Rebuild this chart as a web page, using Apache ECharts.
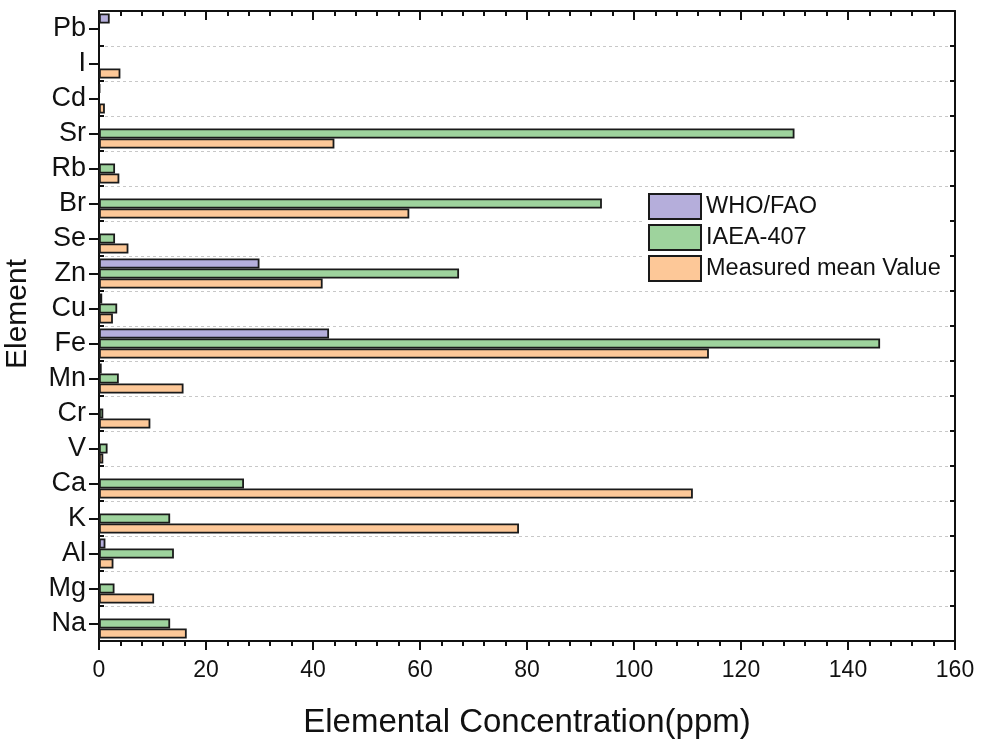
<!DOCTYPE html>
<html>
<head>
<meta charset="utf-8">
<script src="https://cdn.jsdelivr.net/npm/echarts@6/dist/echarts.min.js"></script>
<style>html,body{margin:0;padding:0;background:#fff}#c{width:984px;height:742px}</style>
</head>
<body>
<div id="c"></div>
<script>
const elements = ['Pb','I','Cd','Sr','Rb','Br','Se','Zn','Cu','Fe','Mn','Cr','V','Ca','K','Al','Mg','Na'];
const whoFao   = [2.0, null, 0.2, null, null, null, null, 30.0, 0.6, 43.0, 0.5, null, null, null, null, 1.2, null, null];
const iaea407  = [null, null, null, 130.0, 3.0, 94.0, 3.0, 67.3, 3.4, 146.0, 3.7, 0.8, 1.6, 27.1, 13.3, 14.0, 2.9, 13.3];
const measured = [null, 4.0, 1.1, 44.0, 3.8, 58.0, 5.5, 41.8, 2.6, 114.0, 15.8, 9.6, 0.8, 111.0, 78.5, 2.7, 10.3, 16.4];
const xTicks = [0, 20, 40, 60, 80, 100, 120, 140, 160];

const FONT = 'Liberation Sans';
const chart = echarts.init(document.getElementById('c'), null, {renderer: 'canvas'});
const border = {borderColor: '#1a1a1a', borderWidth: 1.8};
function mk(name, data, color) {
  return {
    name, type: 'bar', data, xAxisIndex: 0, yAxisIndex: 0,
    barWidth: 10, barGap: '0%',
    itemStyle: Object.assign({color}, border)
  };
}
chart.setOption({
  animation: false,
  backgroundColor: '#fff',
  grid: {left: 99, right: 29, top: 11, bottom: 101, outerBoundsMode: 'none', containLabel: false},
  legend: {
    orient: 'vertical', left: 643, top: 188, padding: [5, 8, 5, 5], itemGap: 4,
    backgroundColor: '#fff',
    itemWidth: 52, itemHeight: 25, icon: 'rect',
    textStyle: {fontFamily: FONT, fontSize: 23.5, lineHeight: 25, color: '#111'},
    data: ['WHO/FAO', 'IAEA-407', 'Measured mean Value']
  },
  xAxis: [{
    type: 'value', min: xTicks[0], max: xTicks[xTicks.length - 1], interval: 20,
    position: 'bottom',
    name: 'Elemental Concentration(ppm)', nameLocation: 'middle', nameGap: 65,
    nameTextStyle: {fontFamily: FONT, fontSize: 33, color: '#111'},
    axisLine: {show: true, onZero: false, lineStyle: {color: '#111', width: 2}},
    axisTick: {show: true, inside: false, length: 9, lineStyle: {color: '#111', width: 2}},
    minorTick: {show: true, splitNumber: 5, length: 5, lineStyle: {color: '#111', width: 2}},
    axisLabel: {fontFamily: FONT, fontSize: 23, color: '#111', margin: 18},
    splitLine: {show: false}
  }, {
    type: 'value', min: 0, max: 160, interval: 20, position: 'top',
    axisLine: {show: true, onZero: false, lineStyle: {color: '#111', width: 2}},
    axisTick: {show: true, inside: true, length: 9, lineStyle: {color: '#111', width: 2}},
    minorTick: {show: true, splitNumber: 5, length: 5, lineStyle: {color: '#111', width: 2}},
    axisLabel: {show: false}, splitLine: {show: false}
  }],
  yAxis: [{
    type: 'category', data: elements, inverse: true, position: 'left',
    name: 'Element', nameLocation: 'middle', nameGap: 66,
    nameTextStyle: {fontFamily: FONT, fontSize: 30, color: '#111', padding: [0, 0, 0, 24]},
    axisLine: {show: true, onZero: false, lineStyle: {color: '#111', width: 2}},
    axisTick: {show: true, inside: true, interval: 0, length: 5, lineStyle: {color: '#111', width: 2}},
    axisLabel: {fontFamily: FONT, fontSize: 27, color: '#111', margin: 13, interval: 0},
    splitLine: {show: true, interval: 0, lineStyle: {color: '#c8c8c8', type: [3, 3], width: 1}}
  }, {
    type: 'category', data: elements, inverse: true, position: 'right',
    axisLine: {show: true, onZero: false, lineStyle: {color: '#111', width: 2}},
    axisTick: {show: true, inside: true, interval: 0, length: 5, lineStyle: {color: '#111', width: 2}},
    axisLabel: {show: false, interval: 0}, splitLine: {show: false}
  }, {
    type: 'category', data: elements, inverse: true, position: 'right',
    axisLine: {show: false},
    axisTick: {show: true, inside: true, interval: 0, alignWithLabel: true, length: 10, lineStyle: {color: '#111', width: 2}},
    axisLabel: {show: false, interval: 0}, splitLine: {show: false}
  }],
  series: [
    mk('WHO/FAO', whoFao, '#b5aedb'),
    mk('IAEA-407', iaea407, '#9ed39d'),
    mk('Measured mean Value', measured, '#fdc898')
  ]
});
</script>
</body>
</html>
